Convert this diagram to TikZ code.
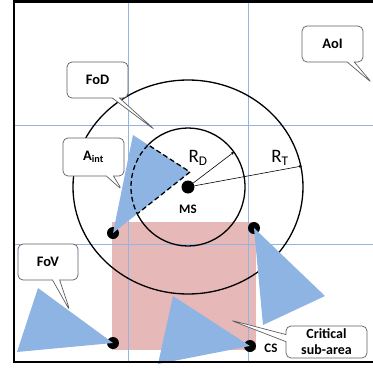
\documentclass[tikz,border=0pt]{standalone}
\usepackage{fontspec}
\setmainfont{Carlito}
\usetikzlibrary{arrows.meta,shapes.callouts}
\definecolor{fovblue}{RGB}{142,180,227}
\definecolor{critpink}{RGB}{230,185,184}
\definecolor{gridblue}{RGB}{150,180,225}
\definecolor{taggray}{RGB}{95,95,95}
\tikzset{
  cam/.style={circle, fill=black, inner sep=0pt, minimum size=12pt},
  fov/.style={fill=fovblue},
  gridline/.style={gridblue, line width=0.8pt},
  tag/.style={rectangle callout, rounded corners=5pt, draw=taggray, fill=white,
    line width=0.7pt, inner sep=1pt, align=center,
    font=\fontsize{14.5}{16}\selectfont\bfseries},
  radline/.style={line width=0.6pt, -{Stealth[length=3pt,width=3pt]}},
}
\begin{document}
\begin{tikzpicture}[x=1pt, y=-1pt] %{,}
\useasboundingbox (0,0) rectangle (373,370);
% critical sub-area
\fill[critpink] (112,222) rectangle (256,350);
% grid of the AoI
\draw[gridline] (128,2) -- (128,362);
\draw[gridline] (248,2) -- (248,362);
\draw[gridline] (14,125) -- (373,125);
\draw[gridline] (14,244) -- (373,244);
% ranges around MS
\coordinate (M) at (188,187);
\draw[line width=1.3pt] (M) ellipse [x radius=115pt, y radius=107pt];
\draw[line width=1.3pt] (M) circle [x radius=57pt, y radius=59pt];
% cameras and their FoV
\node[cam] (C_1) at (113,233) {};
\node[cam] (C_2) at (254,228) {};
\node[cam] (C_3) at (113,343) {};
\node[cam] (C_4) at (250,346) {};
\coordinate (F_1_a) at (133,135);
\coordinate (F_1_b) at (190,172);
\fill[fov] (C_1.center) -- (F_1_a) -- (F_1_b) -- cycle;
\fill[fov] (C_2.center) -- (325,296) -- (263,325) -- cycle;
\fill[fov] (C_3.center) -- (38,288) -- (17,352) -- cycle;
\fill[fov] (C_4.center) -- (173,296) -- (158,364) -- cycle;
% A_int
\begin{scope}
\clip (M) circle [x radius=57pt, y radius=59pt];
\draw[line width=1.3pt, dash pattern=on 5pt off 3pt] (C_1.center) -- (F_1_a) -- (F_1_b) -- cycle;
\end{scope}
\begin{scope}
\clip (C_1.center) -- (F_1_a) -- (F_1_b) -- cycle;
\draw[line width=1.3pt, dash pattern=on 5pt off 3pt] (M) circle [x radius=57pt, y radius=59pt];
\end{scope}
% MS and radii
\node[cam, minimum size=13pt] (MS) at (M) {};
\coordinate (R_D_end) at (234,152);
\coordinate (R_T_end) at (302,166);
\draw[radline] (MS) -- (R_D_end);
\draw[radline] (MS) -- (R_T_end);
\node[font=\fontsize{19}{20}\selectfont] (L_D) at (198,158) {R\textsubscript{D}};
\node[font=\fontsize{19}{20}\selectfont] (L_T) at (280,158) {R\textsubscript{T}};
\node[font=\fontsize{13}{14}\selectfont\bfseries] (L_MS) at (188,209) {MS};
\node[font=\fontsize{13}{14}\selectfont\bfseries] (L_CS) at (271,348) {CS};
% callouts
\node[tag, minimum width=61pt, minimum height=36pt, callout absolute pointer={(155,130)}] (T_FoD) at (97.5,80) {FoD};
\node[tag, minimum width=61pt, minimum height=38pt, callout absolute pointer={(122,190)}] (T_Aint) at (93.5,157) {A\textsubscript{int}};
\node[tag, minimum width=61pt, minimum height=36pt, callout absolute pointer={(372,83)}] (T_AoI) at (332.5,44) {AoI};
\node[tag, minimum width=60pt, minimum height=36pt, callout absolute pointer={(70,311)}] (T_FoV) at (48,262) {FoV};
\node[tag, minimum width=81pt, minimum height=32pt, font=\fontsize{14}{16}\selectfont\bfseries, callout absolute pointer={(230,320)}] (T_CSA) at (326.5,342) {Critical\\sub-area};
% frame of the AoI
\draw[line width=2.5pt] (373,1.5) -- (14,1.5) -- (14,362) -- (373,362);
\end{tikzpicture}
\end{document}
